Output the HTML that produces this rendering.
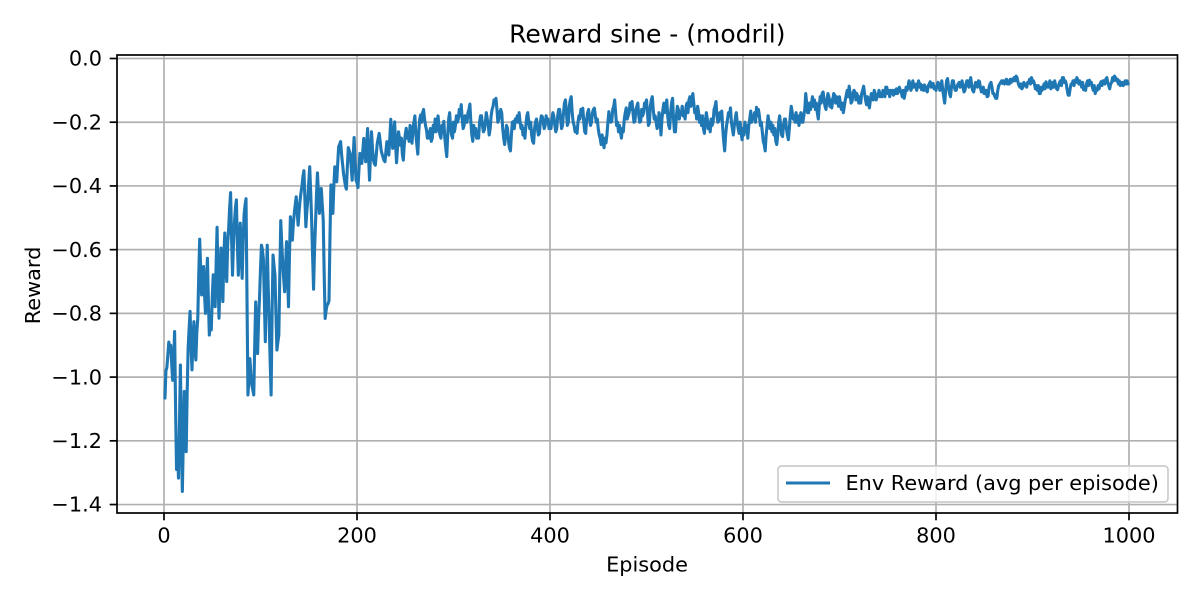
<!DOCTYPE html>
<html>
<head>
<meta charset="utf-8">
<title>Reward sine - (modril)</title>
<style>
html,body{margin:0;padding:0;background:#fff;}
svg{display:block;font-family:"DejaVu Sans","Liberation Sans",sans-serif;}
text{fill:#000;}
</style>
</head>
<body>
<svg id="chart" width="1200" height="600" viewBox="0 0 1200 600" xmlns="http://www.w3.org/2000/svg">
  <rect x="0" y="0" width="1200" height="600" fill="#fff"/>
  <g id="grid"></g>
  <polyline id="line" fill="none" stroke="#1f77b4" stroke-width="3.1" stroke-linejoin="round" stroke-linecap="round"/>
  <rect x="117" y="55" width="1060.5" height="458" fill="none" stroke="#000" stroke-width="1.7"/>
  <g id="ticks"></g>
  <text x="647.3" y="42.7" font-size="25" text-anchor="middle">Reward sine - (modril)</text>
  <text x="647" y="571.7" font-size="20.83" text-anchor="middle">Episode</text>
  <text x="0" y="0" font-size="20.83" text-anchor="middle" transform="translate(40,285.5) rotate(-90)">Reward</text>
  <g>
    <rect x="778" y="466" width="390" height="36" rx="3.5" fill="#fff" fill-opacity="0.8" stroke="#ccc" stroke-width="1.7"/>
    <line x1="786" y1="483" x2="830" y2="483" stroke="#1f77b4" stroke-width="3.1"/>
    <text x="845.5" y="490" font-size="20.83">Env Reward (avg per episode)</text>
  </g>
</svg>
<script>
const xTicks = [0, 200, 400, 600, 800, 1000];
const yTicks = [0, -0.2, -0.4, -0.6, -0.8, -1.0, -1.2, -1.4];
const FIRST_EPISODE = 1;
const rewards = [
-1.066,-.98,-.97,-.93,-.89,-.91,-.90,-.96,-1.01,-.95,-.857,-1.1,-1.29,-1.21,-1.317,-1.15,-.962,-1.2,-1.359,-1.2,
-1.045,-1.16,-1.234,-1.05,-.909,-.85,-.794,-.9,-.977,-.88,-.826,-.91,-.946,-.86,-.815,-.68,-.567,-.66,-.742,-.7,
-.653,-.74,-.80,-.7,-.627,-.76,-.868,-.8,-.852,-.75,-.679,-.72,-.779,-.65,-.530,-.69,-.815,-.7,-.595,-.7,
-.763,-.62,-.548,-.64,-.70,-.58,-.533,-.47,-.421,-.56,-.68,-.58,-.517,-.47,-.444,-.58,-.68,-.6,-.517,-.62,
-.69,-.57,-.491,-.46,-.44,-.75,-1.056,-1.0,-.942,-.99,-1.025,-1.04,-1.056,-.9,-.764,-.85,-.926,-.82,-.75,-.66,
-.586,-.6,-.63,-.76,-.889,-.7,-.586,-.72,-.83,-.95,-1.056,-.8,-.617,-.65,-.68,-.8,-.915,-.89,-.868,-.68,
-.509,-.58,-.643,-.69,-.732,-.65,-.575,-.68,-.779,-.62,-.497,-.54,-.57,-.52,-.486,-.46,-.434,-.48,-.523,-.48,
-.445,-.42,-.40,-.37,-.352,-.44,-.528,-.48,-.445,-.39,-.34,-.42,-.507,-.62,-.724,-.6,-.518,-.43,-.359,-.42,
-.486,-.44,-.408,-.46,-.507,-.68,-.816,-.79,-.774,-.77,-.76,-.56,-.397,-.44,-.486,-.4,-.34,-.36,-.387,-.33,
-.277,-.27,-.261,-.3,-.33,-.36,-.38,-.4,-.41,-.34,-.28,-.29,-.30,-.34,-.382,-.31,-.248,-.32,-.382,-.39,
-.405,-.35,-.298,-.31,-.329,-.29,-.251,-.29,-.324,-.27,-.22,-.31,-.382,-.3,-.23,-.28,-.319,-.33,-.335,-.3,
-.267,-.25,-.235,-.26,-.288,-.3,-.31,-.32,-.324,-.29,-.261,-.28,-.303,-.25,-.191,-.24,-.282,-.24,-.199,-.27,
-.327,-.28,-.23,-.25,
-.272,-.25,-.3,-.319,-.27,-.24,-.219,-.25,-.23,-.26,-.21,-.24,-.266,-.22,-.2,-.18,-.24,-.27,-.30,-.23,-.19,-.177,-.2,-.17,-.16,-.19,-.21,-.224,-.25,-.23,
-.25,-.22,-.26,-.25,-.21,-.23,-.19,-.23,-.2,-.18,-.22,-.24,-.25,-.21,-.23,-.197,-.25,-.28,-.308,-.24,-.19,-.17,-.22,-.24,-.25,-.2,-.23,-.21,-.18,-.2,
-.19,-.16,-.18,-.145,-.19,-.22,-.21,-.18,-.2,-.20,-.17,-.16,-.143,-.2,-.24,-.26,-.21,-.24,-.22,-.25,-.23,-.25,-.2,-.18,-.18,-.21,-.23,-.224,-.2,-.17,
-.19,-.21,-.24,-.22,-.18,-.16,-.15,-.13,-.14,-.125,-.16,-.2,-.19,-.17,-.16,-.172,-.22,-.25,-.27,-.24,-.21,-.22,-.26,-.28,-.29,-.24,-.2,-.198,-.22,-.19,
-.20,-.18,-.2,-.17,-.2,-.22,-.21,-.24,-.22,-.25,-.21,-.18,-.17,-.2,-.22,-.20,-.24,-.26,-.266,-.22,-.2,-.19,-.22,-.24,-.235,-.2,-.18,-.182,-.2,-.22,
-.21,-.18,-.2,-.19,-.22,-.2,-.22,-.19,-.17,-.182,-.21,-.23,-.22,-.18,-.16,-.16,-.19,-.22,-.21,-.17,-.14,-.13,-.17,-.21,-.20,-.15,-.13,-.12,-.17,-.2,
-.21,-.23,-.22,-.235,-.2,-.18,-.19,-.16,-.18,-.156,-.2,-.23,-.235,-.19,-.17,-.16,-.19,-.21,-.20,-.17,-.16,-.156,-.18,-.2,-.19,-.22,-.24,-.25,-.27,-.24,
-.265,-.28,-.25,-.265,-.24,-.2,-.167,-.19,-.2,-.197,-.16,-.15,-.13,-.17,-.21,-.20,-.23,-.21,-.23,-.25,-.22,-.23,-.19,-.17,-.155,-.19,-.18,-.17,-.14,-.16,
-.135,-.17,-.2,-.197,-.16,-.15,-.14,-.18,-.2,-.197,-.16,-.18,-.17,-.14,-.15,-.13,-.17,-.21,-.203,-.15,-.13,-.12,-.16,-.19,-.18,-.2,-.22,-.21,-.17,-.19,
-.24,-.19,-.16,-.14,-.17,-.15,-.13,-.18,-.21,-.22,-.17,-.14,-.125,-.19,-.23,-.23,-.18,-.15,-.16,-.19,-.17,-.175,-.15,-.18,-.17,-.19,-.15,-.14,-.17,-.13,
-.12,-.15,-.13,-.11,-.14,-.17,-.16,-.19,-.15,-.17,-.2,-.18,-.21,-.18,-.22,-.235,-.2,-.17,-.19,-.22,-.2,-.23,-.19,-.21,-.2,-.16,-.15,-.135,-.18,-.2,
-.195,-.17,-.19,-.165,-.22,-.26,-.29,-.24,-.21,-.19,-.17,-.18,-.155,-.2,-.22,-.24,-.21,-.19,-.17,-.2,-.22,-.235,-.2,-.23,-.255,-.22,-.24,-.2,-.23,-.21,
-.25,-.21,-.19,-.165,-.2,-.18,-.19,-.17,-.2,-.153,-.18,-.16,-.18,-.21,-.2,-.23,-.26,-.27,-.29,-.24,-.21,-.18,-.2,-.22,-.2,-.23,-.21,-.24,-.22,-.26,
-.27,-.24,-.2,-.18,-.21,-.24,-.245,-.21,-.19,-.19,-.22,-.24,-.255,-.22,-.18,-.15,-.17,-.19,-.18,-.2,-.17,-.2,-.18,-.21,-.185,-.17,-.2,-.2,-.18,-.16,
-.11,-.14,-.17,-.17,-.14,-.16,-.14,-.12,-.15,-.13,-.16,-.14,-.17,-.19,-.15,-.12,-.14,-.11,-.105,-.13,-.15,-.16,-.13,-.11,-.12,-.15,-.13,-.155,-.13,-.11,
-.115,-.14,-.12,-.13,-.15,-.12,-.145,-.16,-.14,-.17,-.15,-.13,-.115,-.1,-.12,-.087,-.11,-.14,-.135,-.11,-.1,-.105,-.13,-.11,-.12,-.14,-.12,-.14,-.11,-.1,
-.087,-.11,-.13,-.145,-.12,-.14,-.155,-.13,-.11,-.115,-.13,-.1,-.11,-.13,-.12,-.115,-.1,-.12,-.11,-.12,-.1,-.105,-.12,-.09,-.09,-.11,-.1,-.12,-.1,-.11,
-.10,-.115,-.1,-.11,-.095,-.11,-.105,-.09,-.1,-.105,-.12,-.1,-.125,-.11,-.09,-.1,-.09,-.07,-.08,-.1,-.09,-.07,-.09,-.08,-.085,-.1,-.08,-.07,-.09,-.08,
-.098,-.085,-.1,-.083,-.1,-.09,-.105,-.085,-.08,-.073,-.09,-.085,-.078,-.095,-.09,-.1,-.085,-.075,-.08,-.1,-.085,-.07,-.1,-.12,-.14,-.1,-.07,-.063,-.09,-.11,
-.12,-.09,-.07,-.07,-.09,-.1,-.1,-.085,-.08,-.075,-.09,-.08,-.07,-.09,-.105,-.1,-.08,-.07,-.07,-.09,-.075,-.06,-.085,-.1,-.105,-.09,-.075,-.08,-.09,-.07,
-.072,-.09,-.105,-.105,-.09,-.11,-.11,-.1,-.12,-.118,-.09,-.08,-.075,-.09,-.11,-.11,-.12,-.125,-.125,-.1,-.085,-.08,-.075,-.07,-.078,-.07,-.08,-.07,-.065,-.08,
-.07,-.08,-.065,-.075,-.065,-.07,-.06,-.07,-.055,-.06,-.075,-.085,-.09,-.08,-.095,-.09,-.075,-.085,-.08,-.09,-.075,-.075,-.065,-.08,-.06,-.075,-.07,-.08,-.095,-.085,
-.1,-.085,-.11,-.11,-.09,-.1,-.09,-.08,-.095,-.073,-.085,-.09,-.085,-.07,-.095,-.09,-.075,-.09,-.07,-.085,-.095,-.098,-.085,-.075,-.07,-.085,-.06,-.06,-.075,-.07,
-.08,-.1,-.115,-.115,-.095,-.08,-.08,-.07,-.085,-.068,-.075,-.06,-.068,-.08,-.07,-.08,-.09,-.075,-.098,-.09,-.1,-.08,-.07,-.085,-.068,-.08,-.075,-.09,-.1,-.085,
-.11,-.095,-.1,-.085,-.095,-.08,-.073,-.085,-.07,-.07,-.08,-.065,-.06,-.075,-.085,-.095,-.08,-.075,-.06,-.07,-.055,-.06,-.07,-.065,-.08,-.07,-.085,-.08,-.075,-.085,
-.08,-.07,-.08,-.07,-.08
];

const NS = 'http://www.w3.org/2000/svg';
function xScale(ep) { return 164 + ep * 0.965; }
function yScale(v) { return 58.5 - v * 318.6; }
function formatY(v) {
  const s = Math.abs(v).toFixed(1);
  return v < 0 ? '\u2212' + s : s;
}
function make(tag, attrs, parent) {
  const el = document.createElementNS(NS, tag);
  for (const k in attrs) el.setAttribute(k, attrs[k]);
  parent.appendChild(el);
  return el;
}
const gridG = document.getElementById('grid');
const tickG = document.getElementById('ticks');

xTicks.forEach(function (t) {
  const x = xScale(t);
  const g = make('line', {x1: x, x2: x, y1: 55, y2: 513, stroke: '#b0b0b0', 'stroke-width': 1.7}, gridG);
  
  
  const m = make('line', {x1: x, x2: x, y1: 513, y2: 520.3, stroke: '#000', 'stroke-width': 1.7}, tickG);
  
  
  const l = make('text', {x: x, y: 542.7, 'font-size': 20.83, 'text-anchor': 'middle'}, tickG);
  
  
  l.textContent = String(t);
});
yTicks.forEach(function (t) {
  const y = yScale(t);
  const g = make('line', {x1: 117, x2: 1177.5, y1: y, y2: y, stroke: '#b0b0b0', 'stroke-width': 1.7}, gridG);
  
  
  const m = make('line', {x1: 109.7, x2: 117, y1: y, y2: y, stroke: '#000', 'stroke-width': 1.7}, tickG);
  
  
  const l = make('text', {x: 102, y: y + 7.2, 'font-size': 20.83, 'text-anchor': 'end'}, tickG);
  
  
  l.textContent = formatY(t);
});

const pts = rewards.map(function (v, i) {
  return xScale(FIRST_EPISODE + i).toFixed(2) + ',' + yScale(v).toFixed(2);
});
document.getElementById('line').setAttribute('points', pts.join(' '));
</script>
</body>
</html>
